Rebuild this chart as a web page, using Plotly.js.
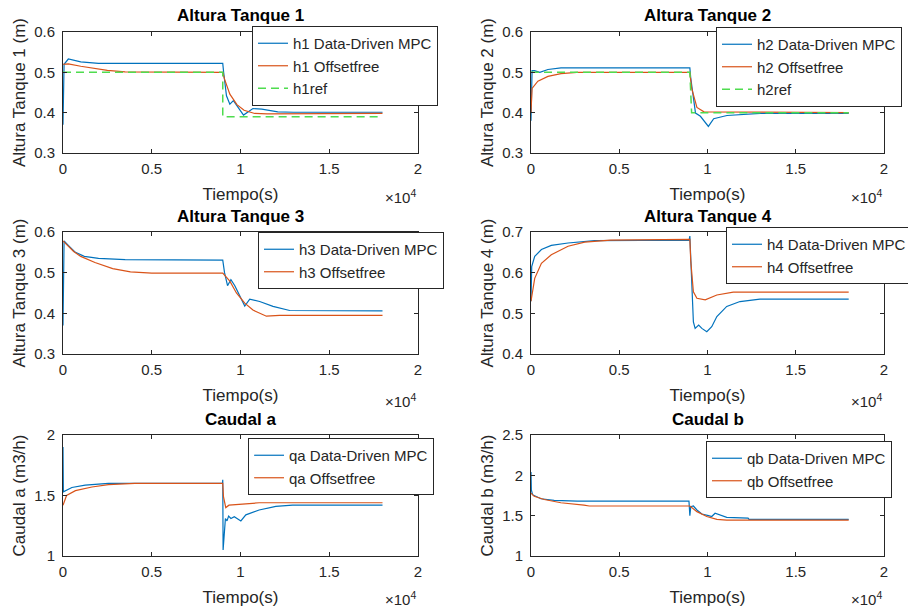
<!DOCTYPE html>
<html>
<head>
<meta charset="utf-8">
<script src="https://cdn.plot.ly/plotly-3.0.1.min.js"></script>
<style>html,body{margin:0;padding:0;background:#fff;}#chart{width:908px;height:609px;}</style>
</head>
<body>
<div id="chart"></div>
<script>
// ---- Data (time in seconds) ----
const titles = ["Altura Tanque 1", "Altura Tanque 2", "Altura Tanque 3", "Altura Tanque 4", "Caudal a", "Caudal b"];
const yLabels = ["Altura Tanque 1 (m)", "Altura Tanque 2 (m)", "Altura Tanque 3 (m)", "Altura Tanque 4 (m)", "Caudal a (m3/h)", "Caudal b (m3/h)"];
const xTickVals = [0, 5000, 10000, 15000, 20000];
const xTickText = ["0", "0.5", "1", "1.5", "2"];

// Tank 1
const t_h1dd = [0, 60, 300, 1000, 2000, 9000, 9050, 9210, 9400, 9600, 10170, 10700, 11200, 12100, 13000, 18000];
const h1dd   = [0.37, 0.52, 0.533, 0.526, 0.522, 0.522, 0.50, 0.442, 0.421, 0.43, 0.394, 0.41, 0.409, 0.402, 0.401, 0.401];
const t_h1of = [0, 300, 1000, 2000, 2500, 3500, 9000, 9100, 9400, 9800, 10200, 10800, 11500, 18000];
const h1of   = [0.52, 0.521, 0.515, 0.508, 0.505, 0.501, 0.5, 0.483, 0.446, 0.42, 0.406, 0.398, 0.397, 0.398];
const t_h1ref = [0, 9000, 9000, 18000];
const h1ref   = [0.5, 0.5, 0.39, 0.39];

// Tank 2
const t_h2dd = [0, 60, 200, 500, 960, 1700, 9000, 9050, 9230, 9320, 9600, 10050, 10350, 11100, 13000, 18000];
const h2dd   = [0.38, 0.504, 0.504, 0.5, 0.507, 0.511, 0.511, 0.486, 0.428, 0.399, 0.391, 0.366, 0.385, 0.393, 0.398, 0.398];
const t_h2of = [0, 60, 390, 960, 1700, 2600, 9000, 9100, 9400, 9800, 18000];
const h2of   = [0.40, 0.46, 0.478, 0.49, 0.497, 0.5, 0.5, 0.461, 0.413, 0.402, 0.4];
const t_h2ref = [0, 9000, 9100, 18000];
const h2ref   = [0.5, 0.5, 0.4, 0.4];

// Tank 3
const t_h3dd = [0, 60, 300, 700, 1200, 2000, 3500, 9000, 9100, 9270, 9460, 9680, 10240, 10520, 11080, 11830, 12770, 18000];
const h3dd   = [0.37, 0.578, 0.567, 0.55, 0.54, 0.535, 0.532, 0.531, 0.50, 0.468, 0.483, 0.468, 0.418, 0.435, 0.429, 0.417, 0.407, 0.406];
const t_h3of = [0, 200, 600, 1000, 1800, 2800, 3800, 5000, 9000, 9400, 9770, 10240, 10700, 11460, 12200, 18000];
const h3of   = [0.578, 0.57, 0.552, 0.54, 0.525, 0.51, 0.502, 0.499, 0.499, 0.479, 0.45, 0.425, 0.408, 0.393, 0.395, 0.395];

// Tank 4
const t_h4dd = [0, 40, 210, 590, 1150, 2100, 3600, 8960, 9000, 9100, 9200, 9300, 9500, 9680, 9960, 10240, 10530, 11090, 11840, 12970, 18000];
const h4dd   = [0.53, 0.615, 0.64, 0.657, 0.667, 0.673, 0.679, 0.68, 0.69, 0.578, 0.479, 0.463, 0.471, 0.463, 0.455, 0.467, 0.492, 0.517, 0.529, 0.535, 0.535];
const t_h4of = [0, 210, 590, 1150, 2100, 3040, 4500, 9000, 9050, 9200, 9400, 9870, 10530, 11460, 18000];
const h4of   = [0.53, 0.586, 0.623, 0.644, 0.665, 0.675, 0.68, 0.682, 0.63, 0.553, 0.537, 0.533, 0.545, 0.552, 0.552];

// Flow a
const t_qadd = [0, 20, 500, 1250, 2560, 8990, 9000, 9020, 9150, 9240, 9330, 9460, 9650, 10020, 10300, 11050, 11990, 12930, 18000];
const qadd   = [1.9, 1.53, 1.566, 1.586, 1.6, 1.6, 1.63, 1.05, 1.31, 1.29, 1.33, 1.31, 1.325, 1.29, 1.34, 1.38, 1.41, 1.42, 1.42];
const t_qaof = [0, 200, 700, 1630, 2560, 4050, 9000, 9040, 9170, 9350, 10300, 11050, 18000];
const qaof   = [1.42, 1.5, 1.54, 1.57, 1.59, 1.6, 1.6, 1.49, 1.4, 1.42, 1.43, 1.44, 1.44];

// Flow b
const t_qbdd = [0, 20, 90, 560, 1310, 2620, 8950, 9000, 9050, 9200, 9400, 9680, 10060, 10240, 10430, 10710, 11090, 12300, 12350, 18000];
const qbdd   = [2.04, 1.82, 1.76, 1.71, 1.69, 1.68, 1.68, 1.5, 1.61, 1.62, 1.57, 1.52, 1.5, 1.49, 1.53, 1.505, 1.48, 1.47, 1.455, 1.455];
const t_qbof = [0, 180, 750, 1690, 3000, 3300, 9000, 9400, 9960, 10530, 11090, 18000];
const qbof   = [1.78, 1.74, 1.7, 1.66, 1.63, 1.62, 1.62, 1.55, 1.49, 1.455, 1.445, 1.445];

const legendNames = [
  ["h1 Data-Driven MPC", "h1 Offsetfree", "h1ref"],
  ["h2 Data-Driven MPC", "h2 Offsetfree", "h2ref"],
  ["h3 Data-Driven MPC", "h3 Offsetfree"],
  ["h4 Data-Driven MPC", "h4 Offsetfree"],
  ["qa Data-Driven MPC", "qa Offsetfree"],
  ["qb Data-Driven MPC", "qb Offsetfree"]
];
const yRanges = [[0.3, 0.6], [0.3, 0.6], [0.3, 0.6], [0.4, 0.7], [1, 2], [1, 2.5]];
const yTicks = [[0.3, 0.4, 0.5, 0.6], [0.3, 0.4, 0.5, 0.6], [0.3, 0.4, 0.5, 0.6], [0.4, 0.5, 0.6, 0.7], [1, 1.5, 2], [1, 1.5, 2, 2.5]];

// ---- Styles ----
const BLUE = "#0072BD", ORANGE = "#D95319", GREEN = "#4fdc4f", AX = "#262626";
const FONT = "Liberation Sans, Arial, Helvetica, sans-serif";
const W = 908, H = 609;
const colPx = [[63, 418], [531, 884]];
const rowPx = [[32, 153], [232, 354], [435, 556]];
const expOffset = [43, 46, 42];
const legendPx = [[252, 26], [716, 27], [258, 232], [726, 227], [248, 438], [706, 441]];

const series = [
  [[t_h1dd, h1dd, BLUE, "solid"], [t_h1of, h1of, ORANGE, "solid"], [t_h1ref, h1ref, GREEN, "dash"]],
  [[t_h2dd, h2dd, BLUE, "solid"], [t_h2of, h2of, ORANGE, "solid"], [t_h2ref, h2ref, GREEN, "dash"]],
  [[t_h3dd, h3dd, BLUE, "solid"], [t_h3of, h3of, ORANGE, "solid"]],
  [[t_h4dd, h4dd, BLUE, "solid"], [t_h4of, h4of, ORANGE, "solid"]],
  [[t_qadd, qadd, BLUE, "solid"], [t_qaof, qaof, ORANGE, "solid"]],
  [[t_qbdd, qbdd, BLUE, "solid"], [t_qbof, qbof, ORANGE, "solid"]]
];

const traces = [];
const layout = {
  width: W, height: H,
  margin: {l: 0, r: 0, t: 0, b: 0, autoexpand: false},
  paper_bgcolor: "#fff", plot_bgcolor: "#fff",
  font: {family: FONT, color: AX, size: 14},
  annotations: [],
  showlegend: true
};

for (let i = 0; i < 6; i++) {
  const col = i % 2, row = Math.floor(i / 2);
  const n = i + 1;
  const xa = n === 1 ? "x" : "x" + n;
  const ya = n === 1 ? "y" : "y" + n;
  const lg = n === 1 ? "legend" : "legend" + n;
  series[i].forEach((s, k) => {
    traces.push({
      x: s[0], y: s[1], type: "scatter", mode: "lines",
      name: legendNames[i][k], xaxis: xa, yaxis: ya, legend: lg,
      line: {color: s[2], width: s[3] === "dash" ? 1.5 : 1.2, dash: s[3] === "dash" ? "8px,5px" : "solid"}
    });
  });
  const xd = [colPx[col][0] / W, colPx[col][1] / W];
  const yd = [1 - rowPx[row][1] / H, 1 - rowPx[row][0] / H];
  const axCommon = {
    showline: true, linecolor: AX, linewidth: 1, mirror: "ticks",
    ticks: "inside", ticklen: 4, tickcolor: AX, tickwidth: 1,
    showgrid: false, zeroline: false, fixedrange: true, automargin: false,
    tickfont: {family: FONT, size: 15, color: AX}
  };
  layout["xaxis" + (n === 1 ? "" : n)] = Object.assign({}, axCommon, {
    domain: xd, anchor: ya, range: [0, 20000],
    tickmode: "array", tickvals: xTickVals, ticktext: xTickText,
    ticklabelstandoff: 2,
    title: {text: "Tiempo(s)", font: {family: FONT, size: 17, color: AX}, standoff: 12}
  });
  layout["yaxis" + (n === 1 ? "" : n)] = Object.assign({}, axCommon, {
    domain: yd, anchor: xa, range: yRanges[i],
    tickmode: "array", tickvals: yTicks[i], ticktext: yTicks[i].map(v => String(v)),
    ticklabelstandoff: 4,
    title: {text: yLabels[i], font: {family: FONT, size: 17, color: AX}, standoff: 4}
  });
  layout[lg] = {
    x: legendPx[i][0] / W, y: 1 - legendPx[i][1] / H, xref: "paper", yref: "paper",
    xanchor: "left", yanchor: "top",
    bgcolor: "#fff", bordercolor: AX, borderwidth: 1,
    font: {family: FONT, size: 15, color: AX},
    tracegroupgap: 0, itemclick: false
  };
  // subplot title
  layout.annotations.push({
    text: "<b>" + titles[i] + "</b>", xref: "paper", yref: "paper",
    x: (xd[0] + xd[1]) / 2, y: 1 - (rowPx[row][0] - 16) / H,
    xanchor: "center", yanchor: "middle", showarrow: false,
    font: {family: FONT, size: 17, color: "#000"}
  });
  // exponent label
  layout.annotations.push({
    text: "×10<sup>4</sup>", xref: "paper", yref: "paper",
    x: colPx[col][1] / W, y: 1 - (rowPx[row][1] + expOffset[row]) / H,
    xanchor: "right", yanchor: "middle", showarrow: false,
    font: {family: FONT, size: 15, color: AX}
  });
}

Plotly.newPlot("chart", traces, layout, {staticPlot: true, displayModeBar: false});
</script>
</body>
</html>
